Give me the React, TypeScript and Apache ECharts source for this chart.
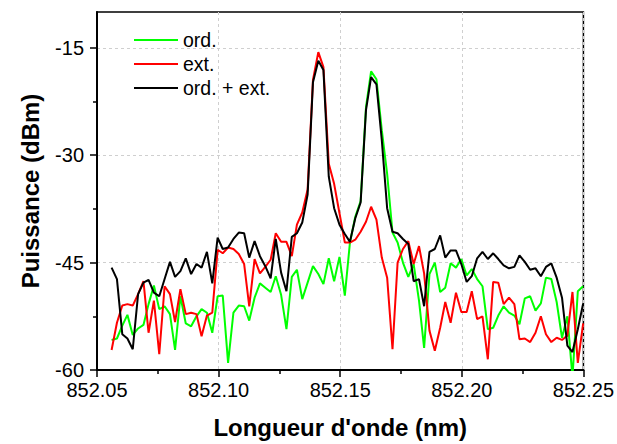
import React, { useEffect, useRef } from "react";
import * as echarts from "echarts";

const wavelengths = [
  852.056, 852.0582, 852.0604, 852.0625, 852.0647, 852.0669, 852.0691, 852.0712, 852.0734, 852.0756,
  852.0778, 852.08, 852.0821, 852.0843, 852.0865, 852.0887, 852.0909, 852.093, 852.0952, 852.0974,
  852.0996, 852.1017, 852.1039, 852.1061, 852.1083, 852.1105, 852.1126, 852.1148, 852.117, 852.1192,
  852.1214, 852.1235, 852.1257, 852.1279, 852.1301, 852.1322, 852.1344, 852.1366, 852.1388, 852.141,
  852.1431, 852.1453, 852.1475, 852.1497, 852.1519, 852.154, 852.1562, 852.1584, 852.1606, 852.1627,
  852.1649, 852.1671, 852.1693, 852.1715, 852.1736, 852.1758, 852.178, 852.1802, 852.1824, 852.1845,
  852.1867, 852.1889, 852.1911, 852.1932, 852.1954, 852.1976, 852.1998, 852.202, 852.2041, 852.2063,
  852.2085, 852.2107, 852.2129, 852.215, 852.2172, 852.2194, 852.2216, 852.2237, 852.2259, 852.2281,
  852.2303, 852.2325, 852.2346, 852.2368, 852.239, 852.2412, 852.2434, 852.2455, 852.2477, 852.2499,
];

const ordValues = [
  -55.8, -55.6, -53.8, -52.3, -55.1, -54.2, -53.7, -50.8, -48.2, -51.5,
  -51.1, -52.2, -57.2, -49.7, -53.5, -53.9, -52.5, -51.5, -52.0, -54.8,
  -49.7, -49.6, -59.0, -52.0, -51.0, -51.1, -53.1, -49.9, -47.9, -48.5,
  -49.1, -46.9, -49.5, -54.3, -47.0, -46.0, -50.1, -47.8, -45.5, -46.6,
  -48.0, -44.4, -47.6, -44.2, -49.6, -42.2, -38.6, -36.4, -23.3, -18.3,
  -19.4, -26.5, -32.6, -40.8, -42.2, -45.0, -47.0, -45.2, -50.3, -56.9,
  -46.6, -45.0, -49.1, -48.5, -45.1, -45.7, -44.5, -46.8, -45.9, -47.3,
  -48.3, -54.3, -54.1, -52.4, -51.1, -52.0, -52.4, -53.6, -50.0, -49.7,
  -51.7, -50.7, -47.1, -47.3, -50.5, -55.5, -52.5, -61.0, -49.0, -48.3,
];

const extValues = [
  -57.2, -53.4, -51.0, -50.8, -51.0, -49.4, -47.6, -54.8, -50.3, -57.8,
  -48.3, -49.4, -53.3, -48.7, -52.2, -52.0, -52.2, -55.3, -52.4, -52.0,
  -43.2, -43.7, -42.9, -43.1, -43.8, -45.2, -51.1, -44.5, -46.5, -45.6,
  -44.6, -40.9, -42.1, -42.1, -44.1, -39.7, -38.0, -34.8, -19.5, -15.6,
  -17.7, -31.2, -34.0, -38.1, -42.2, -42.2, -41.8, -40.7, -39.3, -37.2,
  -39.0, -44.3, -47.1, -57.1, -45.0, -43.1, -42.0, -45.2, -42.7, -46.5,
  -54.5, -57.3, -54.1, -50.5, -53.4, -49.2, -51.9, -51.9, -49.0, -52.9,
  -52.5, -58.5, -47.7, -47.8, -50.8, -49.9, -50.8, -55.7, -55.6, -56.1,
  -54.8, -52.5, -55.0, -56.1, -55.5, -55.8, -55.2, -49.1, -59.0, -53.5,
];

const sumValues = [
  -45.7, -47.3, -55.0, -55.6, -57.1, -49.4, -47.8, -47.4, -49.2, -49.7,
  -47.3, -44.9, -47.0, -46.2, -44.4, -46.6, -45.2, -45.7, -43.5, -47.9,
  -41.5, -43.1, -42.9, -41.7, -40.8, -40.9, -44.3, -42.0, -44.1, -45.5,
  -47.2, -41.7, -46.4, -49.0, -41.4, -40.9, -39.4, -35.5, -19.8, -16.8,
  -18.1, -33.0, -37.4, -39.7, -41.0, -42.1, -38.8, -36.6, -23.7, -19.1,
  -20.1, -27.9, -37.4, -40.7, -40.9, -41.7, -42.4, -47.6, -47.3, -51.1,
  -43.5, -43.1, -41.2, -44.3, -43.3, -43.3, -45.2, -47.7, -46.9, -44.4,
  -43.5, -44.5, -43.7, -44.5, -45.4, -45.8, -45.6, -44.0, -44.9, -46.0,
  -45.8, -46.9, -45.6, -45.1, -47.1, -49.9, -56.6, -57.5, -54.3, -50.7,
];

const seriesNames = ["ord.", "ext.", "ord. + ext."];
const seriesColors = ["#00ff00", "#ff0000", "#000000"];
const xMajorTicks = [852.05, 852.1, 852.15, 852.2, 852.25];
const xMinorTicks = [852.075, 852.125, 852.175, 852.225];
const yMajorTicks = [-60, -45, -30, -15];
const yMinorTicks = [-52.5, -37.5, -22.5];

const FONT = "'Liberation Sans', Arial, sans-serif";

export default function App() {
  const ref = useRef<HTMLDivElement>(null);
  useEffect(() => {
    if (!ref.current) return;
    const chart = echarts.init(ref.current, null, { renderer: "svg" });
    const allValues = [ordValues, extValues, sumValues];
    const X_MIN = 852.05;
    const X_MAX = 852.25;
    const Y_MIN = -60;
    const Y_MAX = -10;
    chart.setOption({
      animation: false,
      backgroundColor: "#ffffff",
      textStyle: { fontFamily: FONT },
      grid: {
        left: 97,
        right: 30,
        top: 12,
        bottom: 74,
        show: true,
        borderColor: "#000",
        borderWidth: 1.5,
        backgroundColor: "transparent",
      },
      legend: {
        orient: "vertical",
        left: 129,
        top: 25,
        itemWidth: 44,
        itemHeight: 14,
        itemGap: 4,
        icon: "path://M0,0 L44,0 L44,2 L0,2 Z",
        textStyle: { fontSize: 19.5, color: "#000", fontFamily: FONT },
        data: seriesNames.map((n, i) => ({ name: n, itemStyle: { color: seriesColors[i] } })),
      },
      xAxis: [
        {
          type: "value",
          min: X_MIN,
          max: X_MAX,
          position: "bottom",
          axisLine: { show: true, onZero: false, lineStyle: { color: "#000", width: 2 } },
          axisTick: { show: true, customValues: xMajorTicks, length: 7, lineStyle: { color: "#000", width: 1.5 } },
          axisLabel: {
            customValues: xMajorTicks,
            formatter: (v: number) => v.toFixed(2),
            fontSize: 20,
            color: "#000",
            margin: 10,
            fontFamily: FONT,
          },
          splitLine: { show: true, lineStyle: { color: "#cfcfcf", type: [3, 3], width: 1 } },
          name: "Longueur d'onde (nm)",
          nameLocation: "middle",
          nameGap: 45,
          nameTextStyle: { fontSize: 24, fontWeight: "bold", color: "#000", fontFamily: FONT },
        },
        {
          type: "value",
          min: X_MIN,
          max: X_MAX,
          position: "bottom",
          axisLine: { show: false, onZero: false },
          axisTick: { show: true, customValues: xMinorTicks, length: 4, lineStyle: { color: "#000", width: 1.5 } },
          axisLabel: { show: false },
          splitLine: { show: false },
        },
      ],
      yAxis: [
        {
          type: "value",
          min: Y_MIN,
          max: Y_MAX,
          position: "left",
          axisLine: { show: true, onZero: false, lineStyle: { color: "#000", width: 2 } },
          axisTick: { show: true, customValues: yMajorTicks, length: 7, lineStyle: { color: "#000", width: 1.5 } },
          axisLabel: {
            customValues: yMajorTicks,
            fontSize: 20,
            color: "#000",
            margin: 13,
            fontFamily: FONT,
          },
          splitLine: { show: true, lineStyle: { color: "#cfcfcf", type: [3, 3], width: 1 } },
          name: "Puissance (dBm)",
          nameLocation: "middle",
          nameGap: 55,
          nameTextStyle: { fontSize: 24, fontWeight: "bold", color: "#000", fontFamily: FONT },
        },
        {
          type: "value",
          min: Y_MIN,
          max: Y_MAX,
          position: "left",
          axisLine: { show: false, onZero: false },
          axisTick: { show: true, customValues: yMinorTicks, length: 4, lineStyle: { color: "#000", width: 1.5 } },
          axisLabel: { show: false },
          splitLine: { show: false },
        },
      ],
      series: seriesNames.map((name, s) => ({
        name,
        type: "line",
        xAxisIndex: 0,
        yAxisIndex: 0,
        symbol: "none",
        clip: true,
        lineStyle: { color: seriesColors[s], width: 2 },
        itemStyle: { color: seriesColors[s] },
        data: wavelengths.map((w, i) => [w, allValues[s][i]]),
      })),
    });
    return () => chart.dispose();
  }, []);
  return (
    <div
      ref={ref}
      style={{ position: "absolute", left: 0, top: 0, width: 617, height: 444 }}
    />
  );
}
